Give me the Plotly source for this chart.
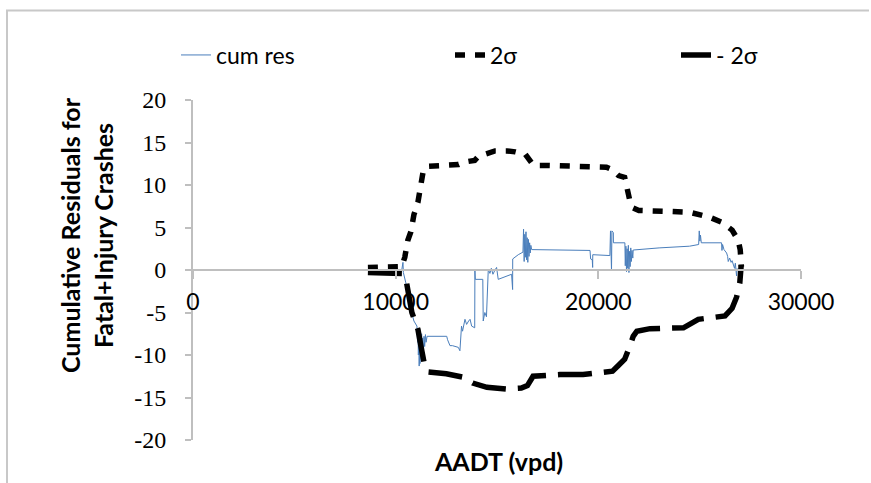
import plotly.graph_objects as go

# ---- data ----
cum_x = [8630, 10300, 10360, 10380, 10500, 10650, 10790, 10900, 11050,
         11080, 11100, 11120, 11140, 11160, 11180, 11200, 11220, 11250, 11280,
         11300, 11330, 11360, 11400, 11430, 11470, 11500, 11550,
         12520, 12560, 12680, 12800, 13090, 13170, 13250, 13300, 13420, 13500,
         13600, 13670, 13750, 13900, 13910, 13930, 14300, 14320, 14400, 14480,
         14570, 14650, 14720, 14800, 14900, 14980, 15060, 15720, 15770, 15775,
         16050, 16280,
         16310, 16340, 16370, 16400, 16430, 16460, 16490, 16520, 16550, 16580,
         16610, 16640, 16670, 16710,
         19590, 19620, 19700, 19720, 19725, 20570, 20600, 20650, 20670, 20740,
         20745, 21310,
         21330, 21360, 21390, 21420, 21450, 21480, 21510, 21540, 21570, 21600,
         21630, 21660, 21700, 21720,
         23000, 24500, 24950, 24980, 25010, 25040, 25080, 25180, 26080, 26100,
         26130, 26200, 26330, 26380, 26410, 26480, 26550, 26600, 26660, 26720,
         26760, 26820, 26850]
cum_y = [0.0, 0.0, 0.9, -0.3, -1.5, -3.5, -5.0, -6.0, -6.6,
         -8.5, -7.0, -10.0, -8.0, -11.3, -9.0, -11.0, -8.2, -10.5, -7.5,
         -9.5, -8.0, -10.2, -7.8, -9.0, -7.6, -8.5, -7.8,
         -7.8, -8.2, -8.9, -8.9, -9.1, -9.5, -6.6, -7.2, -5.8, -6.4,
         -6.0, -5.8, -6.6, -6.8, -0.1, -1.1, -1.1, -6.0, -5.0, -5.5,
         0.1, -0.4, 0.2, -0.5, 0.0, 0.3, -1.1, -0.5, -2.3, 1.3,
         1.8, 2.1,
         4.8, 1.0, 4.2, 1.5, 4.5, 1.2, 3.8, 0.9, 3.6, 1.6,
         3.2, 2.0, 2.9, 2.4,
         2.3, 1.3, 1.2, 0.3, 1.8, 1.7, 4.6, -0.1, 4.6, 4.4,
         3.2, 3.2,
         0.5, 2.8, -0.2, 2.5, 0.2, 2.9, -0.3, 2.2, 0.4, 2.6,
         1.0, 2.3, 1.4, 2.35,
         2.6, 2.8, 3.0, 4.6, 3.4, 4.1, 3.2, 3.2, 3.2, 2.3,
         3.0, 2.4, 2.0, 1.6, 1.0, 1.4, 0.9, 1.1, 0.7, 0.2,
         0.8, -0.7, 0.2]

up_x = [8630, 9500, 10300, 10450, 10600, 10750, 10900, 11100, 11250, 11350,
        11550, 12200, 13100, 13400, 13900, 14100, 14600, 14900, 15500, 15900,
        16400, 16550, 16800, 17500, 19800, 20400, 20700, 21000, 21300, 21400,
        21550, 21720, 22000, 23500, 24500, 25500, 26100, 26600, 26900, 27000,
        27060, 27060]
up_y = [0.3, 0.3, 0.4, 1.5, 3.5, 4.5, 6.5, 8.0, 10.0, 11.5,
        12.2, 12.3, 12.4, 12.7, 12.9, 13.4, 13.8, 14.0, 14.0, 13.9,
        13.6, 13.0, 12.3, 12.3, 12.2, 12.1, 11.8, 11.1, 10.9, 9.6,
        8.2, 7.3, 7.0, 6.9, 6.8, 6.2, 5.6, 4.7, 3.5, 2.4,
        0.9, 0.4]

lo_x = [8630, 9500, 10350, 10500, 10650, 10800, 10950, 11100, 11250, 11350,
        11450, 11600, 12500, 13300, 13600, 13800, 14500, 15500, 16200, 16500,
        16780, 18100, 19250, 20100, 20700, 21000, 21300, 21550, 21720, 21900,
        22550, 24200, 24930, 25600, 26250, 26600, 26820, 26980, 27040, 27050]
lo_y = [-0.3, -0.3, -0.4, -1.0, -3.0, -5.0, -6.0, -7.0, -9.0, -10.5,
        -11.5, -12.0, -12.2, -12.6, -13.0, -13.3, -13.8, -14.0, -13.9, -13.6,
        -12.5, -12.3, -12.3, -12.1, -11.9, -11.2, -10.5, -9.0, -7.8, -7.2,
        -6.9, -6.8, -5.8, -5.6, -5.4, -4.5, -3.2, -1.5, 0.0, 0.6]

series_names = ["cum res", "2σ", "- 2σ"]
y_ticks = [-20, -15, -10, -5, 0, 5, 10, 15, 20]
y_tick_labels = ["-20", "-15", "-10", "-5", "0", "5", "10", "15", "20"]
x_ticks = [0, 10000, 20000, 30000]
x_tick_labels = ["0", "10000", "20000", "30000"]

# ---- figure ----
fig = go.Figure()
fig.add_trace(go.Scatter(x=cum_x, y=cum_y, mode="lines", name=series_names[0],
                         line=dict(color="#4a7ebb", width=1), legend="legend"))
fig.add_trace(go.Scatter(x=up_x, y=up_y, mode="lines", name=series_names[1],
                         line=dict(color="black", width=5.5, dash="10px,10px"),
                         legend="legend2"))
fig.add_trace(go.Scatter(x=lo_x, y=lo_y, mode="lines", name=series_names[2],
                         line=dict(color="black", width=5.5, dash="34px,12px"),
                         legend="legend3"))

L, R, T, B = 193, 70, 100, 43
W, H = 871, 483
pw, ph = W - L - R, H - T - B


def px(xp):
    return (xp - L) / pw


def py(yp):
    return (H - B - yp) / ph


leg_font = dict(family="Lato", size=23, color="black")
common_leg = dict(orientation="h", xanchor="left", yanchor="middle",
                  bgcolor="rgba(0,0,0,0)", font=leg_font, borderwidth=0)

frame = dict(color="#c8c8c8", width=2)
frame_path = (f"M{px(7):.5f},{py(483):.5f} L{px(7):.5f},{py(10.5):.5f} "
              f"L{px(869):.5f},{py(10.5):.5f}")

fig.update_layout(
    width=W, height=H,
    margin=dict(l=L, r=R, t=T, b=B, pad=0),
    paper_bgcolor="white", plot_bgcolor="white",
    showlegend=True,
    legend=dict(x=px(176), y=py(55), **common_leg),
    legend2=dict(x=px(450), y=py(55), **common_leg),
    legend3=dict(x=px(676), y=py(55), **common_leg),
    xaxis=dict(range=[0, 30000], tickvals=x_ticks, ticktext=x_tick_labels,
               anchor="free", position=0.5,
               showline=True, linecolor="#bfbfbf", linewidth=2,
               ticks="outside", ticklen=8, tickcolor="#bfbfbf", tickwidth=2,
               ticklabelstandoff=3,
               tickfont=dict(family="Lato", size=23, color="black"),
               showgrid=False, zeroline=False),
    yaxis=dict(range=[-20, 20], tickvals=y_ticks, ticktext=y_tick_labels,
               showline=True, linecolor="#bfbfbf", linewidth=2,
               ticks="outside", ticklen=6, tickcolor="#bfbfbf", tickwidth=2,
               ticklabelstandoff=14,
               tickfont=dict(family="Liberation Serif", size=24, color="black"),
               showgrid=False, zeroline=False),
    shapes=[dict(type="path", xref="paper", yref="paper", path=frame_path,
                 line=frame, fillcolor="rgba(0,0,0,0)")],
    annotations=[
        dict(text="<b>Cumulative Residuals for<br>Fatal+Injury Crashes</b>",
             xref="paper", yref="paper", x=px(86), y=py(235), textangle=-90,
             xanchor="center", yanchor="middle", showarrow=False,
             font=dict(family="Lato", size=25, color="black")),
        dict(text="<b>AADT (vpd)</b>", xref="paper", yref="paper",
             x=px(498), y=py(461), xanchor="center", yanchor="middle",
             showarrow=False, font=dict(family="Lato", size=25, color="black")),
    ],
)

fig.write_html("out.html",
               config={"displayModeBar": False},
               post_script="document.documentElement.style.margin='0px';"
                           "document.documentElement.style.overflow='hidden';"
                           "document.body.style.margin='0px';"
                           "document.body.style.overflow='hidden';")
